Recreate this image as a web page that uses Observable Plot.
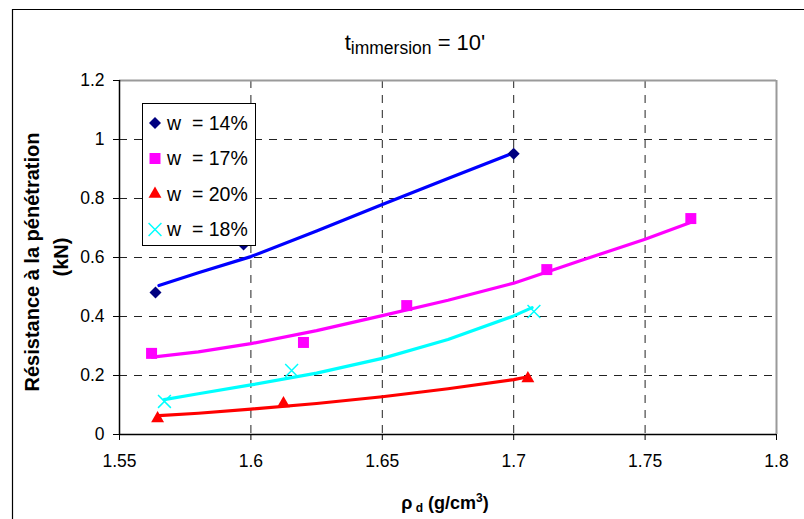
<!DOCTYPE html>
<html><head><meta charset="utf-8">
<script src="https://cdn.jsdelivr.net/npm/d3@7"></script>
<script src="https://cdn.jsdelivr.net/npm/@observablehq/plot@0.6"></script>
<style>body{margin:0;background:#fff} #chart{position:relative;width:804px;height:519px}</style>
</head><body><div id="chart"></div>
<script>
const xTicks = [1.55, 1.6, 1.65, 1.7, 1.75, 1.8];
const yTicks = [0, 0.2, 0.4, 0.6, 0.8, 1, 1.2];
const xGrid = [1.6, 1.65, 1.7, 1.75];
const yGrid = [0.2, 0.4, 0.6, 0.8, 1];
const seriesNames = ["w  = 14%", "w  = 17%", "w  = 20%", "w  = 18%"];

// measured points
const w14x = [1.5637, 1.5972, 1.700];
const w14y = [0.481, 0.644, 0.952];
const w17x = [1.5622, 1.620, 1.6593, 1.7126, 1.7674];
const w17y = [0.275, 0.312, 0.437, 0.559, 0.732];
const w20x = [1.5645, 1.6124, 1.7054];
const w20y = [0.054, 0.105, 0.190];
const w18x = [1.5671, 1.6155, 1.7077];
const w18y = [0.112, 0.217, 0.417];

// trend lines
const t14x = [1.565, 1.58, 1.6, 1.625, 1.65, 1.675, 1.70];
const t14y = [0.505, 0.548, 0.603, 0.69, 0.78, 0.868, 0.955];
const t17x = [1.5625, 1.58, 1.60, 1.625, 1.65, 1.675, 1.70, 1.725, 1.75, 1.767];
const t17y = [0.262, 0.28, 0.308, 0.352, 0.403, 0.455, 0.513, 0.588, 0.662, 0.718];
const t20x = [1.565, 1.58, 1.60, 1.625, 1.65, 1.675, 1.70, 1.705];
const t20y = [0.064, 0.072, 0.086, 0.105, 0.128, 0.155, 0.186, 0.195];
const t18x = [1.567, 1.58, 1.60, 1.625, 1.65, 1.675, 1.70, 1.707];
const t18y = [0.118, 0.138, 0.168, 0.208, 0.258, 0.322, 0.402, 0.43];

const zip = (xs, ys) => xs.map((x, i) => ({x, y: ys[i]}));
const FONT = "'Liberation Sans', Arial, sans-serif";

const series = [
  {name: seriesNames[0], pts: zip(w14x, w14y), trend: zip(t14x, t14y), line: "#0000ff", mark: "#000080", symbol: "diamond2", r: 5.4, fill: true},
  {name: seriesNames[1], pts: zip(w17x, w17y), trend: zip(t17x, t17y), line: "#ff00ff", mark: "#ff00ff", symbol: "square", r: 6.2, fill: true},
  {name: seriesNames[2], pts: zip(w20x, w20y), trend: zip(t20x, t20y), line: "#ff0000", mark: "#ff0000", symbol: "triangle", r: 4.8, fill: true},
  {name: seriesNames[3], pts: zip(w18x, w18y), trend: zip(t18x, t18y), line: "#00ffff", mark: "#00ffff", symbol: "times", r: 5.9, fill: false}
];

const fmtX = d => String(d);
const fmtY = d => String(d);

const marks = [
  Plot.ruleX(xGrid, {stroke: "#222", strokeDasharray: "8,7", strokeWidth: 1}),
  Plot.ruleY(yGrid, {stroke: "#222", strokeDasharray: "8,7", strokeWidth: 1}),
  Plot.ruleX([1.8], {stroke: "#9a9a9a", strokeWidth: 2}),
  Plot.ruleY([1.2], {stroke: "#9a9a9a", strokeWidth: 2}),
  Plot.axisX({ticks: xTicks, tickFormat: fmtX, tickSize: 6, tickPadding: 14, label: null, stroke: "#000"}),
  Plot.axisY({ticks: yTicks, tickFormat: fmtY, tickSize: 6, tickPadding: 9, label: null, stroke: "#000"}),
  Plot.ruleX([1.55], {stroke: "#000", strokeWidth: 1.5}),
  Plot.ruleY([0], {stroke: "#000", strokeWidth: 1.5})
];
for (const s of series) {
  marks.push(Plot.line(s.trend, {x: "x", y: "y", stroke: s.line, strokeWidth: 3.2, curve: "linear"}));
}
for (const s of series) {
  marks.push(Plot.dot(s.pts, s.fill
    ? {x: "x", y: "y", symbol: () => s.symbol, fill: s.mark, stroke: "none", r: s.r}
    : {x: "x", y: "y", symbol: () => s.symbol, fill: "none", stroke: s.mark, strokeWidth: 1.5, r: s.r}));
}

const plot = Plot.plot({
  width: 804, height: 519,
  marginLeft: 119, marginRight: 28, marginTop: 80, marginBottom: 85,
  style: {fontFamily: FONT, fontSize: "17.5px", color: "#000", background: "#fff", overflow: "visible"},
  x: {domain: [1.55, 1.8]},
  y: {domain: [0, 1.2]},
  symbol: {domain: ["diamond2", "square", "triangle", "times"], range: ["diamond2", "square", "triangle", "times"]},
  marks
});
document.getElementById("chart").appendChild(plot);

const svg = d3.select(plot);
// outer border
svg.append("path").attr("d", "M12.5,519 V9.5 H804").attr("fill", "none").attr("stroke", "#000").attr("stroke-width", 1.2);

// title
const title = svg.append("text").attr("x", 415).attr("y", 50).attr("text-anchor", "middle")
  .style("font-family", FONT).style("font-size", "22px").attr("fill", "#000");
title.append("tspan").text("t");
title.append("tspan").attr("dy", 4).style("font-size", "17.5px").text("immersion");
title.append("tspan").attr("dy", -4).text(" = 10'");

// x title
const xt = svg.append("text").attr("x", 445).attr("y", 509).attr("text-anchor", "middle")
  .style("font-family", FONT).style("font-size", "18px").style("font-weight", "bold").attr("fill", "#000");
xt.append("tspan").text("ρ");
xt.append("tspan").attr("dy", 3).style("font-size", "12px").text(" d");
xt.append("tspan").attr("dy", -3).text(" (g/cm");
xt.append("tspan").attr("dy", -7).style("font-size", "12px").text("3");
xt.append("tspan").attr("dy", 7).text(")");

// y title
const yt = svg.append("text").attr("transform", "translate(39,262) rotate(-90)").attr("text-anchor", "middle")
  .style("font-family", FONT).style("font-size", "20px").style("font-weight", "bold").attr("fill", "#000");
yt.append("tspan").attr("x", 0).attr("dy", 0).text("Résistance à la pénétration");
yt.append("tspan").attr("x", 5).attr("dy", 29).text("(kN)");

// legend
const lg = svg.append("g");
lg.append("rect").attr("x", 142.5).attr("y", 103.5).attr("width", 113).attr("height", 142)
  .attr("fill", "#fff").attr("stroke", "#000").attr("stroke-width", 1);
const symMap = {diamond2: d3.symbolDiamond2, square: d3.symbolSquare, triangle: d3.symbolTriangle, times: d3.symbolTimes};
series.forEach((s, i) => {
  const cy = 123 + i * 35.5;
  const size = Math.PI * s.r * s.r;
  lg.append("path").attr("transform", `translate(155,${cy})`)
    .attr("d", d3.symbol(symMap[s.symbol], size)())
    .attr("fill", s.fill ? s.mark : "none").attr("stroke", s.fill ? "none" : s.mark).attr("stroke-width", 1.5);
  lg.append("text").attr("x", 167).attr("y", cy + 6.5).attr("text-anchor", "start")
    .style("font-family", FONT).style("font-size", "19.5px")
    .attr("fill", "#000").style("white-space", "pre").text(s.name);
});
</script>
</body></html>
